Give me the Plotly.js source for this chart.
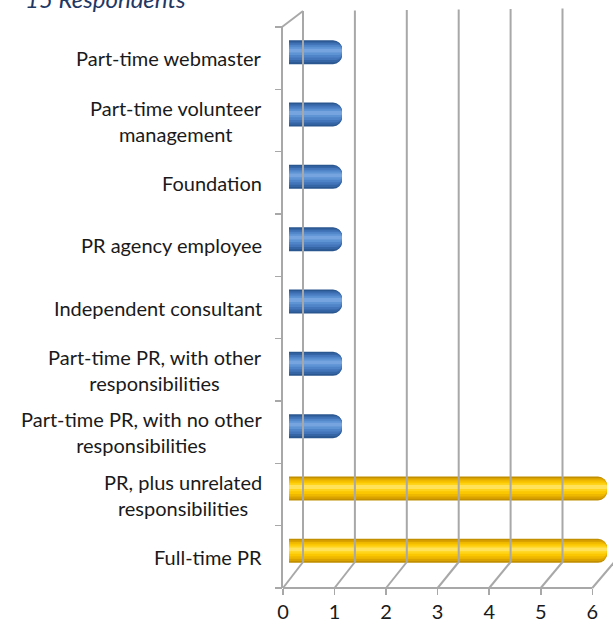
<!DOCTYPE html>
<html>
<head>
<meta charset="utf-8">
<script src="https://cdn.plot.ly/plotly-3.0.1.min.js"></script>
<style>
  html, body { margin: 0; padding: 0; background: #ffffff; }
  #chart { width: 613px; height: 633px; }
</style>
</head>
<body>
<div id="chart"></div>
<script>
// ---------------- DATA ----------------
const categories = [
  'Full-time PR',
  'PR, plus unrelated<br>responsibilities',
  'Part-time PR, with no other<br>responsibilities',
  'Part-time PR, with other<br>responsibilities',
  'Independent consultant',
  'PR agency employee',
  'Foundation',
  'Part-time volunteer<br>management',
  'Part-time webmaster'
];
const respondents = [6, 6, 1, 1, 1, 1, 1, 1, 1];
const groups = ['main', 'main', 'other', 'other', 'other', 'other', 'other', 'other', 'other'];
const xTickValues = [0, 1, 2, 3, 4, 5, 6];
const xTickLabels = ['0', '1', '2', '3', '4', '5', '6'];
const titleText = '15 Respondents';

// ---------------- STYLE / GEOMETRY ----------------
const W = 613, H = 633;
const M = { l: 283, r: 0, t: 10, b: 45 };
const plotW = W - M.l - M.r;
const plotH = H - M.t - M.b;
const barZeroPx = 289, barUnitPx = 53;        // bar (mid-depth) scale
const frontZeroPx = 283, frontUnitPx = 51.55; // front floor / tick scale
const backZeroPx = 303, backUnitPx = 51.9;    // back wall scale
const frontFloorPx = 588, backFloorPx = 562;
const bandTopPx = 27;
const wallTopLeftPx = 11, wallTopRightPx = 8;
const nCat = categories.length;
const bandPx = (frontFloorPx - bandTopPx) / nCat;
const barRange = [(M.l - barZeroPx) / barUnitPx, (W - M.r - barZeroPx) / barUnitPx];
const tickRange = [(M.l - frontZeroPx) / frontUnitPx, (W - M.r - frontZeroPx) / frontUnitPx];
const yRange = [-0.5, -0.5 + plotH / bandPx];
const lineColor = '#a8a8a8';
const font = 'Lato, "Open Sans", Arial, sans-serif';

const px2paperX = px => (px - M.l) / plotW;
const py2paperY = py => (H - M.b - py) / plotH;

// cylinder shading layers (outer -> inner)
const barThick = 24 / bandPx;
const barLift = 6 / bandPx;
const layers = [
  { w: 1.00, shift: 0.000, main: '#c18f00', other: '#2b5790' },
  { w: 0.86, shift: 0.004, main: '#dba300', other: '#3565a5' },
  { w: 0.70, shift: 0.010, main: '#efb800', other: '#4275b9' },
  { w: 0.52, shift: 0.018, main: '#fbc700', other: '#5084c8' },
  { w: 0.34, shift: 0.026, main: '#ffd41a', other: '#5e93d4' },
  { w: 0.16, shift: 0.032, main: '#ffe15a', other: '#75a4de' }
];

const traces = layers.map((L, i) => {
  const w = barThick * L.w;
  return {
    type: 'bar',
    orientation: 'h',
    x: respondents,
    y: categories,
    xaxis: 'x',
    yaxis: 'y',
    width: w,
    offset: barLift + L.shift * barThick * 2 - w / 2,
    marker: {
      color: groups.map(g => L[g]),
      line: { width: 0 },
      cornerradius: '38%'
    },
    hoverinfo: i === 0 ? 'x+y' : 'skip',
    showlegend: false
  };
});

// ---------------- WIREFRAME SHAPES ----------------
const shapes = [];
const line = { color: lineColor, width: 2 };
xTickValues.forEach((k, i) => {
  const bx = backZeroPx + k * backUnitPx;
  const fx = frontZeroPx + k * frontUnitPx;
  const topY = wallTopLeftPx + (wallTopRightPx - wallTopLeftPx) * i / (xTickValues.length - 1);
  // back wall gridline
  shapes.push({ type: 'line', xref: 'paper', yref: 'paper',
    x0: px2paperX(bx), x1: px2paperX(bx), y0: py2paperY(backFloorPx), y1: py2paperY(topY), line });
  // floor diagonal
  shapes.push({ type: 'line', xref: 'paper', yref: 'paper',
    x0: px2paperX(fx), x1: px2paperX(bx), y0: py2paperY(frontFloorPx), y1: py2paperY(backFloorPx), line });
});
// front floor edge
shapes.push({ type: 'line', xref: 'paper', yref: 'paper',
  x0: px2paperX(frontZeroPx), x1: px2paperX(frontZeroPx + 6 * frontUnitPx),
  y0: py2paperY(frontFloorPx), y1: py2paperY(frontFloorPx), line });
// left wall front edge + top slant
shapes.push({ type: 'line', xref: 'paper', yref: 'paper',
  x0: px2paperX(frontZeroPx - 1), x1: px2paperX(frontZeroPx - 1),
  y0: py2paperY(frontFloorPx), y1: py2paperY(bandTopPx), line });
shapes.push({ type: 'line', xref: 'paper', yref: 'paper',
  x0: px2paperX(frontZeroPx - 1), x1: px2paperX(backZeroPx),
  y0: py2paperY(bandTopPx), y1: py2paperY(wallTopLeftPx), line });

// ---------------- CATEGORY LABELS ----------------
const annotations = categories.map(c => ({
  text: c, xref: 'paper', yref: 'y', x: 0, y: c,
  xanchor: 'right', yanchor: 'middle', xshift: -19, align: 'center',
  showarrow: false, font: { family: font, size: 20, color: '#1a1a1a' }
}));

const layout = {
  width: W, height: H,
  margin: M,
  paper_bgcolor: '#ffffff', plot_bgcolor: 'rgba(0,0,0,0)',
  barmode: 'overlay',
  showlegend: false,
  title: {
    text: '<i>' + titleText + '</i>',
    font: { family: font, size: 24, color: '#1f3864' },
    xref: 'container', yref: 'container',
    x: 25 / W, xanchor: 'left', y: 1, yanchor: 'middle'
  },
  xaxis: {
    range: barRange, showgrid: false, zeroline: false, showline: false,
    showticklabels: false, ticks: '', fixedrange: true
  },
  xaxis2: {
    overlaying: 'x', anchor: 'y', side: 'bottom',
    range: tickRange, tickmode: 'array', tickvals: xTickValues, ticktext: xTickLabels,
    ticks: 'outside', ticklen: 6, tickwidth: 1.5, tickcolor: lineColor,
    showgrid: false, zeroline: false, showline: false,
    tickfont: { family: font, size: 20, color: '#1a1a1a' }
  },
  yaxis: {
    type: 'category', categoryorder: 'array', categoryarray: categories,
    range: yRange, showgrid: false, zeroline: false, showline: false,
    showticklabels: false, ticks: 'outside', tickson: 'boundaries',
    ticklen: 7, tickwidth: 1.5, tickcolor: lineColor
  },
  shapes, annotations
};

// invisible helper trace so the tick axis is bound to the subplot
traces.unshift({ type: 'scatter', x: xTickValues, y: xTickValues.map(() => categories[0]),
  xaxis: 'x2', yaxis: 'y', mode: 'none', hoverinfo: 'skip', showlegend: false });

Plotly.newPlot('chart', traces, layout, { displayModeBar: false, staticPlot: true });
</script>
</body>
</html>
